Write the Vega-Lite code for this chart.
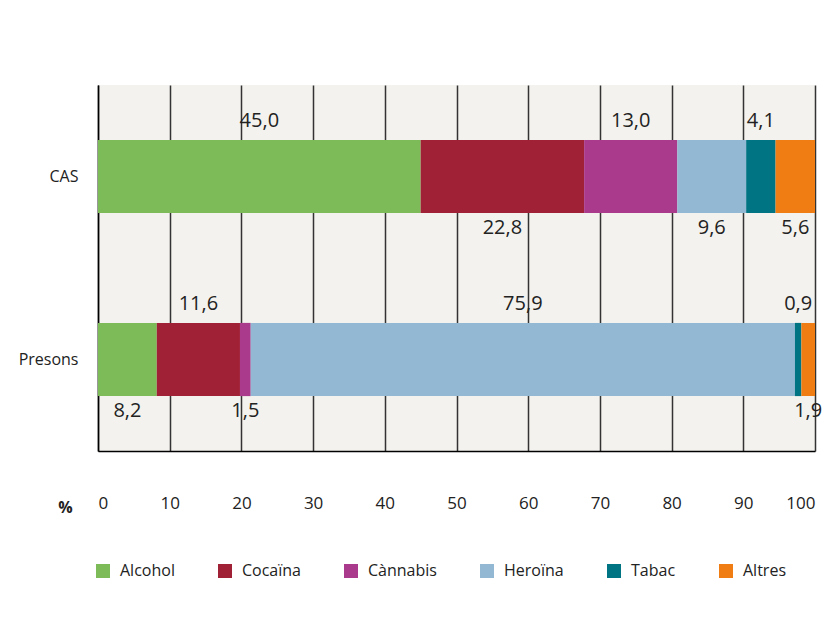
{
  "$schema": "https://vega.github.io/schema/vega-lite/v6.json",
  "width": 717,
  "height": 366,
  "autosize": {"type": "none"},
  "padding": {"left": 98, "top": 85, "right": 25, "bottom": 166},
  "background": "white",
  "config": {
    "locale": {"number": {"decimal": ",", "thousands": ".", "grouping": [3], "currency": ["", " €"]}},
    "view": {"fill": "#f3f2ee", "stroke": null},
    "font": "Open Sans"
  },
  "data": {
    "values": [
      {"grup": "CAS", "droga": "Alcohol", "pct": 45.0},
      {"grup": "CAS", "droga": "Cocaïna", "pct": 22.8},
      {"grup": "CAS", "droga": "Cànnabis", "pct": 13.0},
      {"grup": "CAS", "droga": "Heroïna", "pct": 9.6},
      {"grup": "CAS", "droga": "Tabac", "pct": 4.1},
      {"grup": "CAS", "droga": "Altres", "pct": 5.6},
      {"grup": "Presons", "droga": "Alcohol", "pct": 8.2},
      {"grup": "Presons", "droga": "Cocaïna", "pct": 11.6},
      {"grup": "Presons", "droga": "Cànnabis", "pct": 1.5},
      {"grup": "Presons", "droga": "Heroïna", "pct": 75.9},
      {"grup": "Presons", "droga": "Tabac", "pct": 0.9},
      {"grup": "Presons", "droga": "Altres", "pct": 1.9}
    ]
  },
  "transform": [
    {"calculate": "indexof(['Alcohol','Cocaïna','Cànnabis','Heroïna','Tabac','Altres'], datum.droga)", "as": "ordre"},
    {"stack": "pct", "groupby": ["grup"], "sort": [{"field": "ordre", "order": "ascending"}], "as": ["x0", "x1"]},
    {"calculate": "(datum.x0 + min(datum.x1, 100)) / 2", "as": "xm"}
  ],
  "encoding": {
    "y": {
      "field": "grup", "type": "nominal",
      "sort": ["CAS", "Presons"],
      "scale": {"paddingInner": 0.6, "paddingOuter": 0.3},
      "axis": {"title": null, "domain": true, "domainColor": "black", "domainWidth": 1.5, "ticks": false, "labelPadding": 20, "labelFontSize": 16, "labelColor": "#222", "grid": false}
    }
  },
  "layer": [
    {
      "mark": {"type": "bar", "clip": true},
      "encoding": {
        "x": {
          "field": "x0", "type": "quantitative",
          "scale": {"domain": [0, 100], "nice": false},
          "axis": {
            "values": [0, 10, 20, 30, 40, 50, 60, 70, 80, 90, 100],
            "grid": true, "gridColor": "#333", "gridWidth": 1.5, "gridOpacity": 1,
            "domainColor": "black", "domainWidth": 1.5,
            "ticks": false, "labelPadding": 44, "labelFontSize": 17, "labelColor": "#222",
            "title": "%", "titleFontSize": 16, "titleFontWeight": "bold", "titleColor": "#222",
            "titleAnchor": "start", "titleX": -33, "titleY": 56, "titleAlign": "center", "titleBaseline": "middle"
          }
        },
        "x2": {"field": "x1"},
        "color": {
          "field": "droga", "type": "nominal",
          "scale": {
            "domain": ["Alcohol", "Cocaïna", "Cànnabis", "Heroïna", "Tabac", "Altres"],
            "range": ["#7dbb59", "#a02035", "#a93a8c", "#92b8d3", "#007483", "#f07d14"]
          },
          "legend": {
            "orient": "none", "legendX": -3, "legendY": 478, "direction": "horizontal",
            "title": null, "symbolType": "square", "symbolSize": 196, "symbolStrokeWidth": 0,
            "labelFontSize": 16, "labelFont": "Open Sans", "labelColor": "#222",
            "columnPadding": 42, "labelOffset": 9
          }
        }
      }
    },
    {
      "transform": [{"filter": "(datum.grup == 'CAS' && indexof(['Alcohol','Cànnabis','Tabac'], datum.droga) >= 0) || (datum.grup == 'Presons' && indexof(['Cocaïna','Heroïna','Tabac'], datum.droga) >= 0)"}],
      "mark": {"type": "text", "dy": -56, "fontSize": 20, "color": "#222", "baseline": "middle"},
      "encoding": {
        "x": {"field": "xm", "type": "quantitative"},
        "text": {"field": "pct", "type": "quantitative", "format": ".1f"}
      }
    },
    {
      "transform": [{"filter": "!((datum.grup == 'CAS' && indexof(['Alcohol','Cànnabis','Tabac'], datum.droga) >= 0) || (datum.grup == 'Presons' && indexof(['Cocaïna','Heroïna','Tabac'], datum.droga) >= 0))"}],
      "mark": {"type": "text", "dy": 51, "fontSize": 20, "color": "#222", "baseline": "middle"},
      "encoding": {
        "x": {"field": "xm", "type": "quantitative"},
        "text": {"field": "pct", "type": "quantitative", "format": ".1f"}
      }
    }
  ]
}
